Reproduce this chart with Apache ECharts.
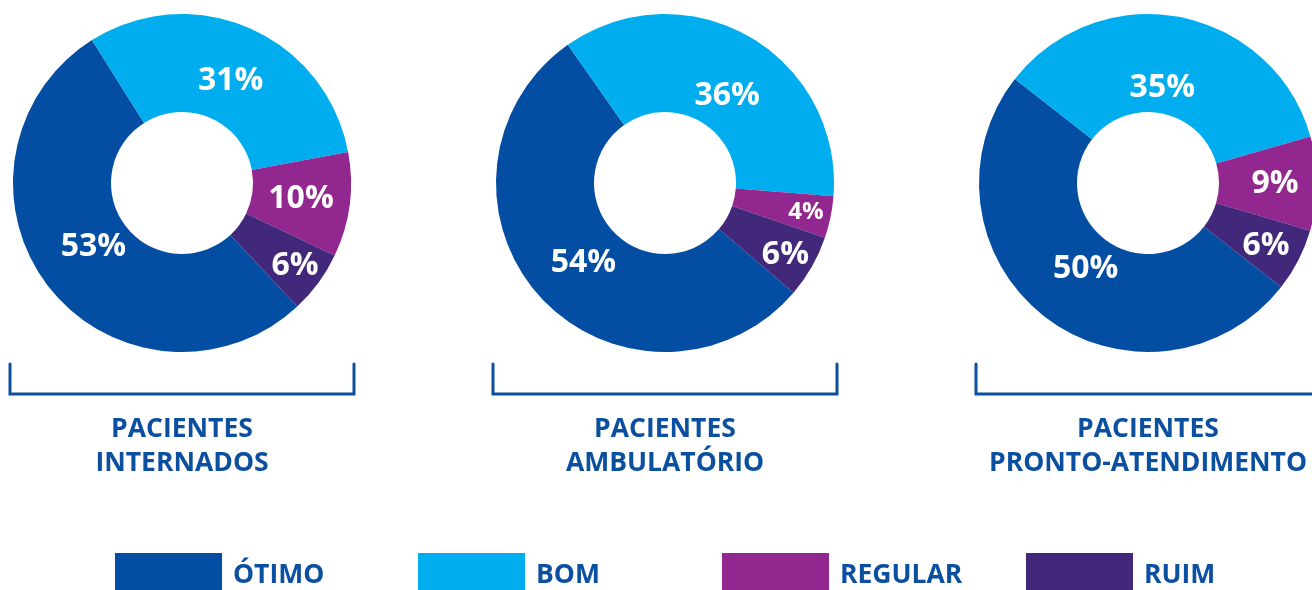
<!DOCTYPE html>
<html>
<head>
<meta charset="utf-8">
<script src="https://cdn.jsdelivr.net/npm/echarts@6/dist/echarts.min.js"></script>
<style>
  html, body { margin: 0; padding: 0; background: #fff; }
  #chart { width: 1312px; height: 590px; }
</style>
</head>
<body>
<div id="chart"></div>
<script>
// data
var categories = ['ÓTIMO', 'BOM', 'REGULAR', 'RUIM'];
var internados = [53, 31, 10, 6];
var ambulatorio = [54, 36, 4, 6];
var prontoAtendimento = [50, 35, 9, 6];
var groupTitles = ['PACIENTES\nINTERNADOS', 'PACIENTES\nAMBULATÓRIO', 'PACIENTES\nPRONTO-ATENDIMENTO'];

// styling / layout
var colors = ['#034ea2', '#00aeef', '#92278f', '#41287a'];
var textBlue = '#0a4fa0';
var titleFont = '"Open Sans", sans-serif';
var labelFont = '"Open Sans", sans-serif';
var cy = 183;
// labelR / labelTurn: where each percent sits (radius, degrees off the slice bisector)
var donuts = [
  { values: internados, cx: 182, start: 313, labelR: [106, 110, 117, 137], labelTurn: [-2, -2, 0, 0] },
  { values: ambulatorio, cx: 665, start: 319.5, labelR: [111, 104, 141, 137], labelTurn: [2, -6, 0, -1] },
  { values: prontoAtendimento, cx: 1148, start: 322, labelR: [103, 93, 124, 131], labelTurn: [2, 2.5, 0, -1] }
];
var legendLeft = [115, 418, 722, 1026];

var chart = echarts.init(document.getElementById('chart'));

var series = donuts.map(function (d) {
  var total = d.values.reduce(function (a, b) { return a + b; }, 0);
  var cum = 0;
  var data = d.values.map(function (v, i) {
    // default inside label sits on the bisector at mid ring (r=120); move it
    var midDeg = d.start - (cum + v / 2) / total * 360;
    cum += v;
    var mid = midDeg * Math.PI / 180;
    var to = (midDeg + d.labelTurn[i]) * Math.PI / 180;
    var r = d.labelR[i];
    return {
      name: categories[i],
      value: v,
      itemStyle: { color: colors[i] },
      label: {
        fontSize: v < 5 ? 24 : 32,
        offset: [r * Math.cos(to) - 120 * Math.cos(mid), -(r * Math.sin(to) - 120 * Math.sin(mid))]
      }
    };
  });
  return {
    type: 'pie',
    center: [d.cx, cy],
    radius: [71, 169],
    startAngle: d.start,
    clockwise: true,
    avoidLabelOverlap: false,
    silent: true,
    label: {
      show: true,
      position: 'inside',
      formatter: '{c}%',
      color: '#fff',
      fontFamily: labelFont,
      fontWeight: 'bold',
      fontSize: 32
    },
    labelLine: { show: false },
    emphasis: { disabled: true },
    data: data
  };
});

var graphics = [];
donuts.forEach(function (d, i) {
  graphics.push({
    type: 'polyline',
    silent: true,
    shape: { points: [[d.cx - 172, 364], [d.cx - 172, 394], [d.cx + 172, 394], [d.cx + 172, 364]] },
    style: { stroke: textBlue, lineWidth: 3, fill: null, lineCap: 'round' }
  });
  graphics.push({
    type: 'text',
    silent: true,
    x: d.cx,
    y: 446,
    style: {
      text: groupTitles[i],
      fill: textBlue,
      fontFamily: titleFont,
      fontWeight: 'bold',
      fontSize: 26.5,
      lineHeight: 34,
      align: 'center',
      verticalAlign: 'middle'
    }
  });
});

var legends = categories.map(function (name, i) {
  return {
    data: [name],
    left: legendLeft[i],
    top: 553,
    padding: 0,
    icon: 'rect',
    itemWidth: 107,
    itemHeight: 44,
    selectedMode: false,
    textStyle: {
      color: textBlue,
      fontFamily: titleFont,
      fontWeight: 'bold',
      fontSize: 26.5,
      padding: [0, 0, 0, 6]
    }
  };
});

chart.setOption({
  animation: false,
  legend: legends,
  series: series,
  graphic: graphics
});
</script>
</body>
</html>
